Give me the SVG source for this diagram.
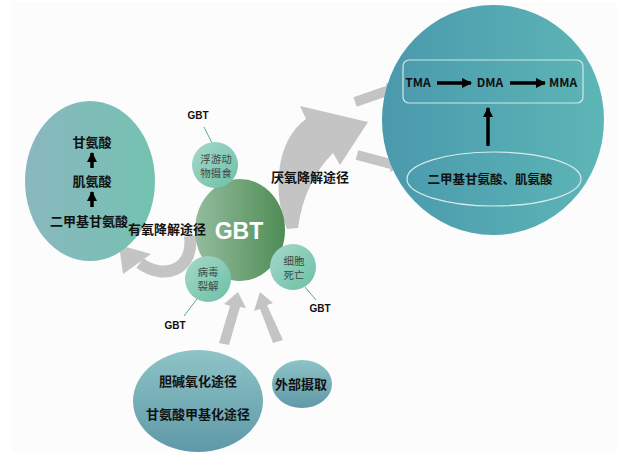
<svg xmlns="http://www.w3.org/2000/svg" width="626" height="454" viewBox="0 0 626 454">
<defs>
<linearGradient id="gLeft" x1="0" y1="0" x2="1" y2="0"><stop offset="0" stop-color="#8ab7bf"/><stop offset="1" stop-color="#74c2b1"/></linearGradient>
<linearGradient id="gGbt" x1="0" y1="0" x2="1" y2="0"><stop offset="0" stop-color="#93bc9e"/><stop offset="1" stop-color="#4f8d55"/></linearGradient>
<linearGradient id="gSmall" x1="0" y1="0" x2="1" y2="1"><stop offset="0" stop-color="#a6d9c9"/><stop offset="1" stop-color="#6cbfa6"/></linearGradient>
<linearGradient id="gRight" x1="0" y1="0" x2="1" y2="0"><stop offset="0" stop-color="#4a99ad"/><stop offset="1" stop-color="#5db6b6"/></linearGradient>
<linearGradient id="gBottom" x1="0" y1="0" x2="0" y2="1"><stop offset="0" stop-color="#8ec4c6"/><stop offset="1" stop-color="#5f98a8"/></linearGradient>
<marker id="ah" viewBox="0 0 10 10" refX="9" refY="5" markerWidth="3" markerHeight="3" orient="auto"><path d="M0,0 L10,5 L0,10 Z" fill="#000"/></marker>
</defs>
<style>
.t{font-family:"Noto Sans CJK SC","Liberation Sans",sans-serif;font-weight:bold;fill:#111;text-anchor:middle}
.s{font-family:"Noto Sans CJK SC","Liberation Sans",sans-serif;fill:#3a4a46;text-anchor:middle;font-size:10.5px}
.g{font-family:"Liberation Sans",sans-serif;font-weight:bold;fill:#111;text-anchor:middle;font-size:10px}
.arr{stroke:#000;stroke-width:3.5;fill:none;marker-end:url(#ah)}
.gray{fill:#c4c4c4}
.lead{stroke:#5aa894;stroke-width:1;fill:none}
</style>
<rect x="12" y="2" width="605" height="450" fill="#fcfcfc"/>

<g id="connectors">
  <!-- anaerobic swoosh -->
  <path class="gray" d="M287,229 C272,192 276,140 306,119 L300,106 L368,122 L340,165 L333,153 C314,172 302,198 298,228 Z"/>
  <!-- arrows into right circle -->
  <polygon class="gray" points="353.4,97.3 386.5,85.8 385.5,82.9 398.6,86.9 390.7,98.1 389.8,95.2 356.7,106.7"/>
  <polygon class="gray" points="358.3,150.2 393.1,159.5 393.9,156.6 402,167 389.7,172.0 390.5,169.1 355.7,159.8"/>
  <!-- aerobic hook arrow -->
  <path d="M190,236 C194,270 164,281 140,263" stroke="#c4c4c4" stroke-width="12" fill="none"/>
  <polygon class="gray" points="119,245 123,274 151,254"/>
  <!-- bottom arrows -->
  <polygon class="gray" points="219,343 230,306 224,304 238,292 246,308 240,307 229,345"/>
  <polygon class="gray" points="273,343 260,309 254,311 260,292 273,303 267,305 283,340"/>
  <!-- leader lines -->
  <line class="lead" x1="204" y1="127" x2="212" y2="143"/>
  <line class="lead" x1="184" y1="316" x2="197" y2="299"/>
  <line class="lead" x1="305" y1="287" x2="316" y2="300"/>
</g>

<g id="left-ellipse">
  <ellipse cx="90" cy="181" rx="65" ry="80" fill="url(#gLeft)"/>
  <text class="t" x="92" y="147" font-size="13">甘氨酸</text>
  <line class="arr" x1="92" y1="168" x2="92" y2="153"/>
  <text class="t" x="92" y="186" font-size="13">肌氨酸</text>
  <line class="arr" x1="92" y1="207" x2="92" y2="192"/>
  <text class="t" x="89" y="226" font-size="13">二甲基甘氨酸</text>
</g>

<g id="gbt">
  <ellipse cx="240" cy="230" rx="45" ry="51" fill="url(#gGbt)"/>
  <text x="239" y="239" font-family="Liberation Sans,sans-serif" font-weight="bold" font-size="23" fill="#fff" text-anchor="middle">GBT</text>
</g>

<g id="zooplankton">
  <circle cx="215" cy="165" r="23" fill="url(#gSmall)"/>
  <text class="s" x="216" y="163">浮游动</text>
  <text class="s" x="216" y="177">物摄食</text>
  <text class="g" x="198" y="119">GBT</text>
</g>

<g id="virus">
  <circle cx="208" cy="279" r="23" fill="url(#gSmall)"/>
  <text class="s" x="208" y="276">病毒</text>
  <text class="s" x="208" y="290">裂解</text>
  <text class="g" x="175" y="329">GBT</text>
</g>

<g id="celldeath">
  <circle cx="293" cy="267" r="23" fill="url(#gSmall)"/>
  <text class="s" x="294" y="265">细胞</text>
  <text class="s" x="294" y="279">死亡</text>
  <text class="g" x="320" y="312">GBT</text>
</g>

<g id="labels">
  <text class="t" x="167" y="234" font-size="13">有氧降解途径</text>
  <text class="t" x="310" y="182" font-size="13">厌氧降解途径</text>
</g>

<g id="right-circle">
  <ellipse cx="493" cy="120" rx="111" ry="115" fill="url(#gRight)"/>
  <rect x="403" y="60" width="180" height="43" rx="6" fill="none" stroke="#cfe8e8" stroke-width="1.2"/>
  <text class="t" x="418" y="87" font-size="12" font-family="Liberation Sans,sans-serif">TMA</text>
  <line class="arr" x1="437" y1="83" x2="471" y2="83"/>
  <text class="t" x="490" y="87" font-size="12" font-family="Liberation Sans,sans-serif">DMA</text>
  <line class="arr" x1="510" y1="83" x2="545" y2="83"/>
  <text class="t" x="563" y="87" font-size="12" font-family="Liberation Sans,sans-serif">MMA</text>
  <line class="arr" x1="488" y1="146" x2="488" y2="108"/>
  <ellipse cx="494" cy="179" rx="87" ry="27" fill="none" stroke="#d6ecec" stroke-width="1.2"/>
  <text class="t" x="490" y="184" font-size="12.5">二甲基甘氨酸、肌氨酸</text>
</g>

<g id="pathways">
  <ellipse cx="198" cy="401" rx="65" ry="51" fill="url(#gBottom)"/>
  <text class="t" x="198" y="386" font-size="13">胆碱氧化途径</text>
  <text class="t" x="198" y="419" font-size="13">甘氨酸甲基化途径</text>
</g>

<g id="external">
  <ellipse cx="302" cy="384" rx="30" ry="24" fill="url(#gBottom)"/>
  <text class="t" x="301" y="389" font-size="13">外部摄取</text>
</g>
</svg>
